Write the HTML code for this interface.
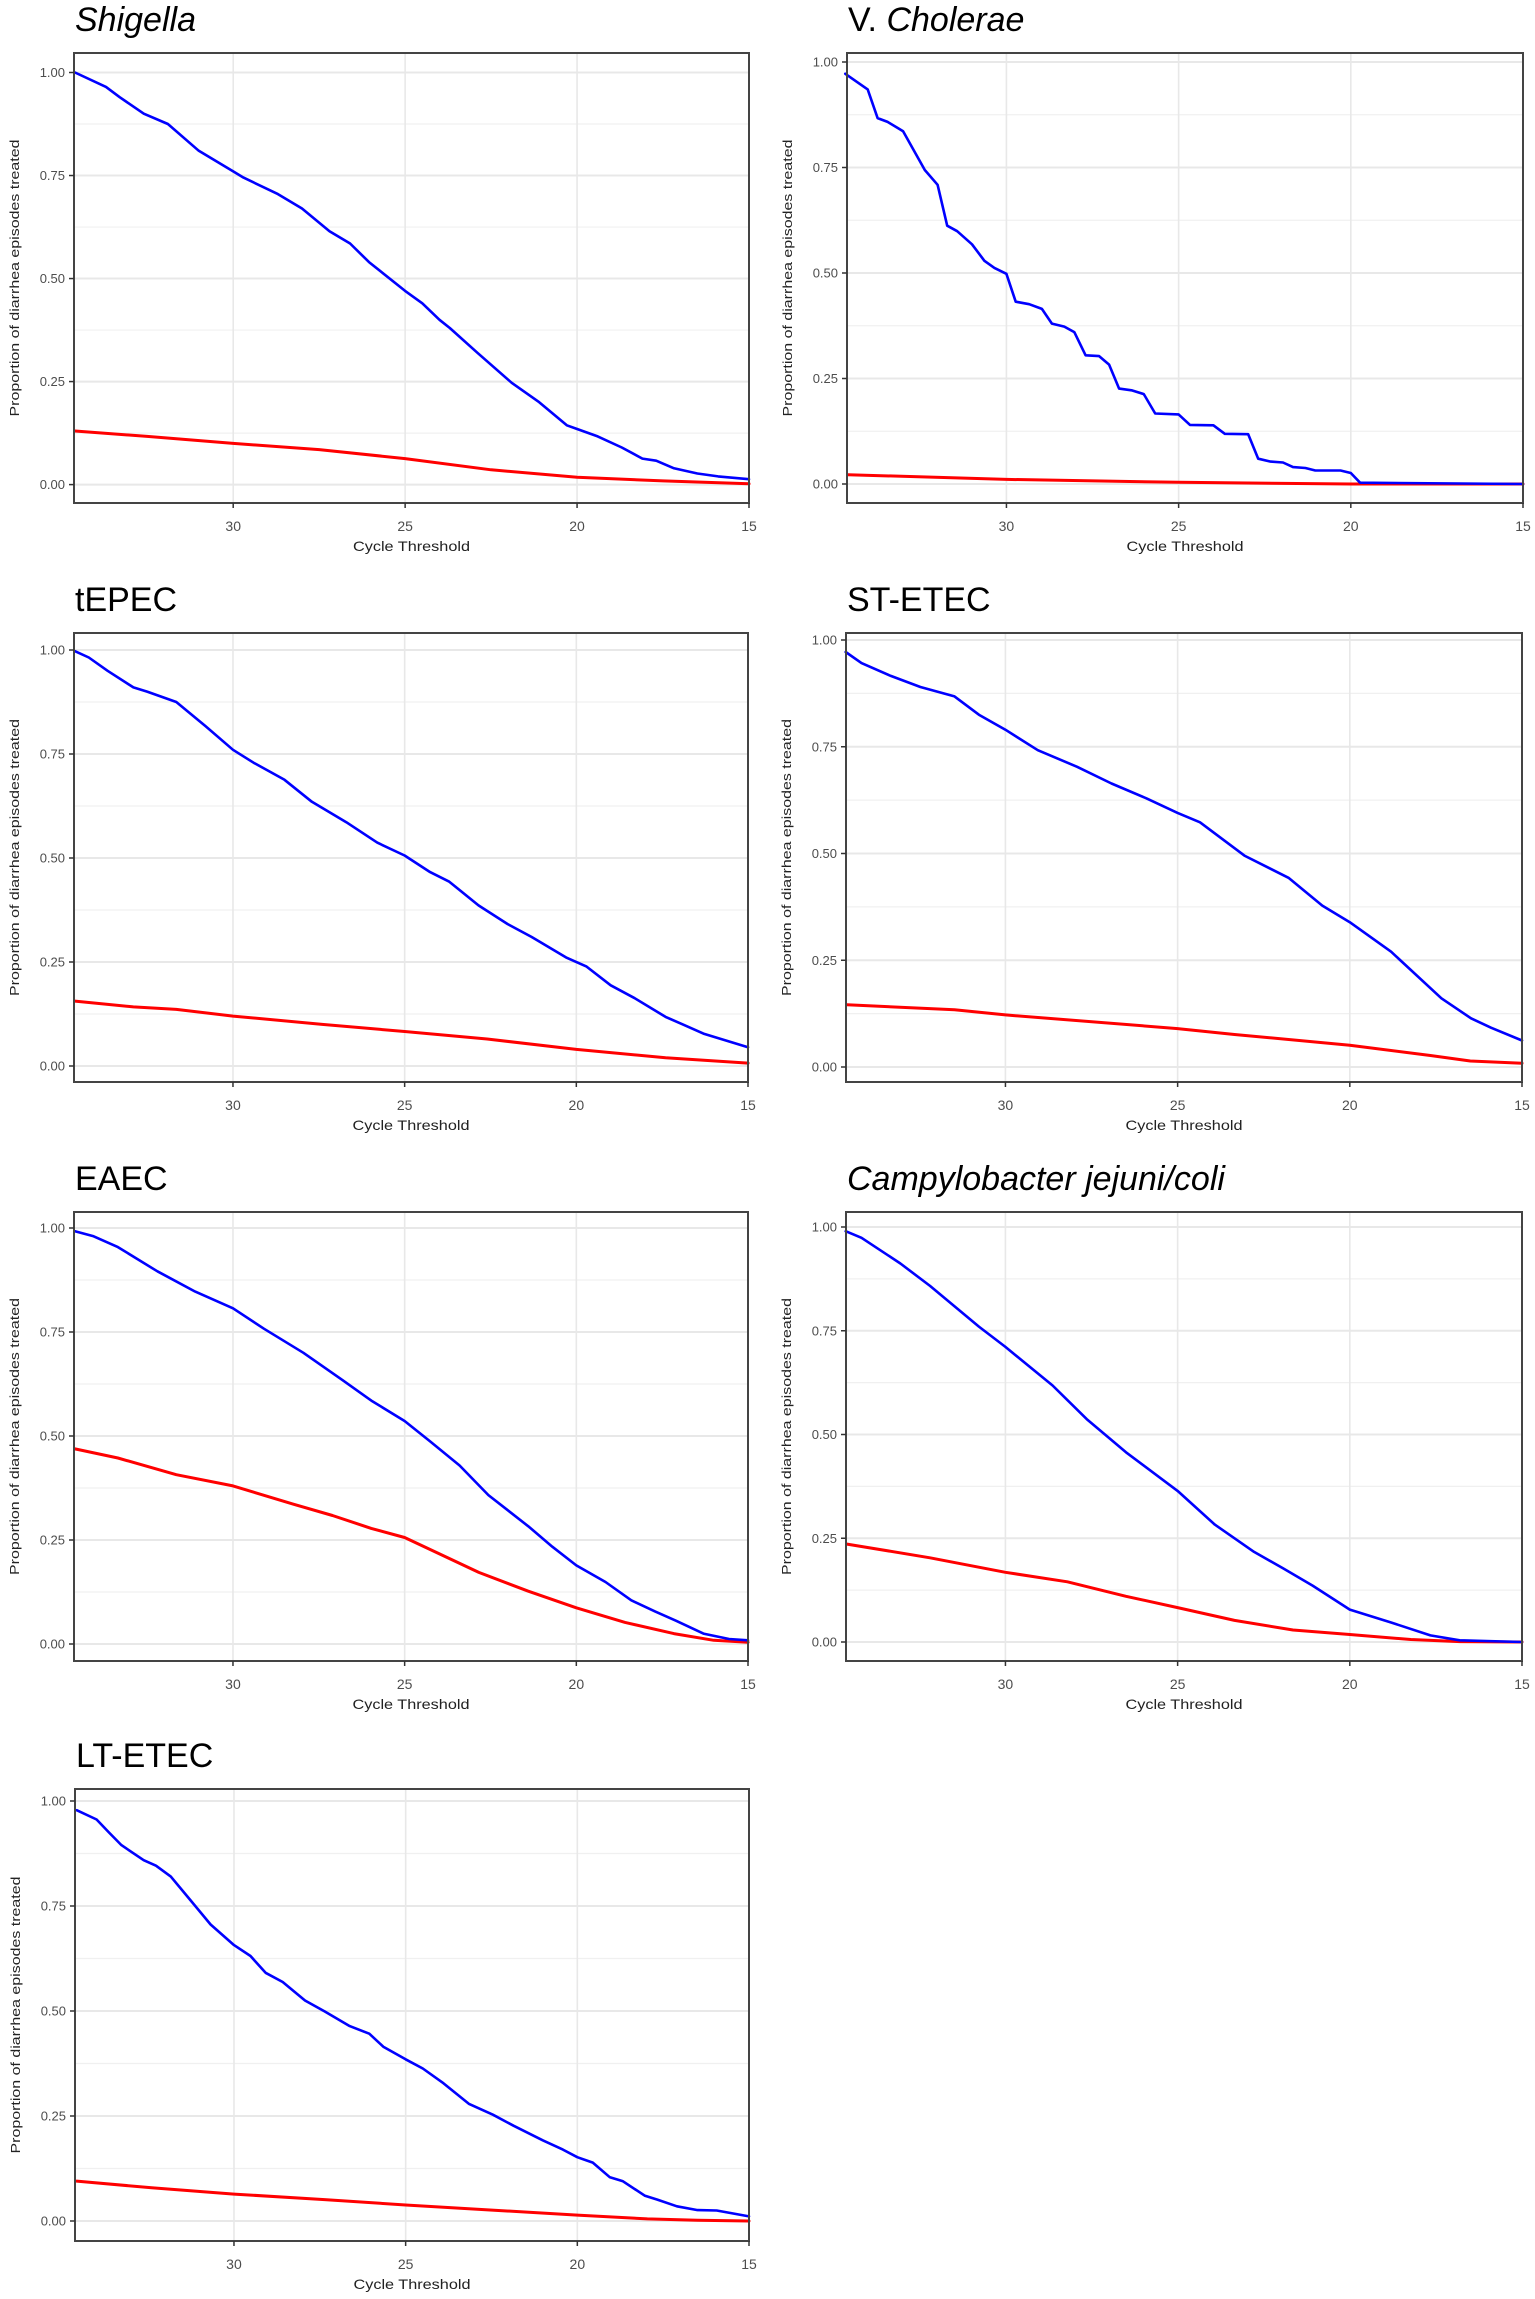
<!DOCTYPE html>
<html><head><meta charset="utf-8">
<style>
html,body{margin:0;padding:0;background:#fff;}
svg{display:block;}
text{font-family:"Liberation Sans",sans-serif;}
</style></head>
<body>
<svg id="chart" width="1535" height="2299" viewBox="0 0 1535 2299" xmlns="http://www.w3.org/2000/svg"></svg>
<script>
// ---- data (Cycle threshold -> proportion treated) ----
const xTicks = [30, 25, 20, 15];
const yTicks = [0, 0.25, 0.5, 0.75, 1];
const yTickLabels = ["0.00", "0.25", "0.50", "0.75", "1.00"];
const titles = ["Shigella", "V. Cholerae", "tEPEC", "ST-ETEC", "EAEC", "Campylobacter jejuni/coli", "LT-ETEC"];

const shigellaBlueCt = [34.6,33.7,33.3,32.6,31.9,31.0,30,29.7,28.7,28.0,27.2,26.6,26.05,25,24.5,24.0,23.7,22.9,21.9,21.1,20.3,20,19.4,18.7,18.1,17.7,17.2,16.5,15.9,15];
const shigellaBlue = [1.0,0.965,0.94,0.90,0.875,0.81,0.76,0.745,0.705,0.67,0.615,0.585,0.54,0.47,0.44,0.40,0.38,0.32,0.247,0.20,0.144,0.135,0.117,0.09,0.063,0.058,0.04,0.027,0.02,0.013];
const shigellaRedCt = [34.6,32.5,30,27.5,25,22.5,20,17.5,15];
const shigellaRed = [0.13,0.117,0.10,0.085,0.063,0.036,0.018,0.009,0.002];

const choleraeBlueCt = [34.68,34.03,33.74,33.45,33.0,32.37,32.0,31.72,31.43,31.0,30.64,30.35,30,29.73,29.34,28.97,28.68,28.32,28.03,27.7,27.31,27.02,26.73,26.37,26.01,25.68,25,24.67,23.99,23.66,22.98,22.69,22.33,21.97,21.68,21.32,21.03,20.3,20,19.73,15];
const choleraeBlue = [0.972,0.935,0.867,0.858,0.836,0.744,0.709,0.612,0.599,0.568,0.529,0.512,0.498,0.432,0.426,0.415,0.38,0.373,0.36,0.305,0.303,0.283,0.226,0.222,0.213,0.167,0.165,0.14,0.139,0.119,0.118,0.06,0.053,0.051,0.04,0.038,0.032,0.032,0.026,0.003,0];
const choleraeRedCt = [34.6,30,25,20,15];
const choleraeRed = [0.022,0.011,0.004,0.0,0.0];

const tepecBlueCt = [34.6,34.2,33.65,32.9,32.5,31.65,30.8,30,29.4,28.5,27.7,26.7,25.8,25,24.26,23.7,22.85,22.0,21.3,20.3,19.7,19.0,18.3,17.4,16.9,16.3,15];
const tepecBlue = [0.997,0.982,0.95,0.91,0.9,0.875,0.817,0.76,0.729,0.688,0.635,0.586,0.537,0.506,0.466,0.443,0.386,0.341,0.31,0.261,0.239,0.194,0.163,0.118,0.10,0.078,0.045];
const tepecRedCt = [34.6,32.9,31.65,30,27.4,25,22.6,20,17.4,15];
const tepecRed = [0.156,0.142,0.136,0.12,0.10,0.083,0.065,0.04,0.02,0.007];

const stetecBlueCt = [34.64,34.18,33.33,32.47,31.48,30.77,30,29.06,27.92,26.92,25.9,25,24.35,23.06,21.78,20.8,20,18.8,17.34,16.48,15.9,15];
const stetecBlue = [0.972,0.946,0.916,0.89,0.868,0.825,0.79,0.742,0.703,0.664,0.629,0.595,0.573,0.495,0.443,0.378,0.339,0.27,0.161,0.114,0.092,0.062];
const stetecRedCt = [34.6,31.48,30,25,23.35,20,17.66,16.5,15];
const stetecRed = [0.146,0.134,0.122,0.09,0.076,0.051,0.027,0.014,0.009];

const eaecBlueCt = [34.6,34.06,33.35,32.2,31.1,30,29.1,27.95,26.8,25.97,25,24.26,23.4,22.56,21.4,20.7,20,19.15,18.4,17.7,17.1,16.3,15.55,15];
const eaecBlue = [0.992,0.98,0.954,0.896,0.847,0.807,0.758,0.70,0.634,0.585,0.536,0.487,0.429,0.358,0.283,0.234,0.189,0.149,0.105,0.078,0.056,0.025,0.012,0.009];
const eaecRedCt = [34.6,33.35,31.65,30,28.24,27.1,25.97,25,23.97,22.84,21.4,20,18.58,17.16,16.0,15];
const eaecRed = [0.469,0.447,0.407,0.38,0.336,0.309,0.278,0.256,0.216,0.172,0.127,0.087,0.052,0.025,0.009,0.004];

const campyBlueCt = [34.64,34.18,33.05,32.19,30.77,30,28.63,27.64,26.5,25,23.92,22.78,21.93,21.08,20,18.8,17.66,16.81,15];
const campyBlue = [0.99,0.974,0.912,0.858,0.76,0.711,0.618,0.537,0.457,0.364,0.283,0.217,0.177,0.136,0.078,0.047,0.016,0.004,0];
const campyRedCt = [34.6,32.19,30,28.2,26.5,25,23.35,21.65,20,18.23,16.8,15];
const campyRed = [0.236,0.203,0.168,0.145,0.11,0.083,0.052,0.029,0.018,0.006,0.001,0];

const ltetecBlueCt = [34.58,34.0,33.64,33.28,32.63,32.27,31.84,31.26,30.68,30,29.52,29.08,28.58,27.93,27.36,26.63,26.06,25.65,25,24.5,23.9,23.16,22.46,21.86,21.0,20.42,20,19.55,19.05,18.68,18.03,17.67,17.1,16.5,15.94,15];
const ltetecBlue = [0.978,0.956,0.925,0.895,0.859,0.846,0.82,0.763,0.706,0.657,0.631,0.591,0.569,0.525,0.499,0.464,0.446,0.415,0.385,0.363,0.328,0.279,0.253,0.227,0.192,0.17,0.152,0.139,0.104,0.095,0.06,0.051,0.035,0.026,0.025,0.011];
const ltetecRedCt = [34.58,32.4,30,27.36,25,22.3,20,17.96,16.5,15];
const ltetecRed = [0.095,0.079,0.064,0.051,0.038,0.025,0.014,0.005,0.002,0];

const blueCts = [shigellaBlueCt, choleraeBlueCt, tepecBlueCt, stetecBlueCt, eaecBlueCt, campyBlueCt, ltetecBlueCt];
const blueVals = [shigellaBlue, choleraeBlue, tepecBlue, stetecBlue, eaecBlue, campyBlue, ltetecBlue];
const redCts = [shigellaRedCt, choleraeRedCt, tepecRedCt, stetecRedCt, eaecRedCt, campyRedCt, ltetecRedCt];
const redVals = [shigellaRed, choleraeRed, tepecRed, stetecRed, eaecRed, campyRed, ltetecRed];

// ---- layout ----
const NS = "http://www.w3.org/2000/svg";
const svg = document.getElementById("chart");
const italicTitle = [true, false, false, false, false, true, false];
const panelBox = [
  {L:74, R:749, T:53, B:503, y1:72.5, y0:484.6},
  {L:847, R:1523, T:53, B:503, y1:62, y0:484},
  {L:74, R:748, T:633, B:1082, y1:650, y0:1066},
  {L:846, R:1522, T:633, B:1082, y1:640, y0:1067},
  {L:74, R:748, T:1212, B:1661, y1:1228, y0:1644},
  {L:846, R:1522, T:1212, B:1661, y1:1227, y0:1642},
  {L:75, R:749, T:1789, B:2241, y1:1801, y0:2221}
];
const xLeftCt = 34.63, xRightCt = 15;

function mk(tag, attrs, parent){
  const e = document.createElementNS(NS, tag);
  for (const k in attrs) e.setAttribute(k, attrs[k]);
  (parent || svg).appendChild(e);
  return e;
}

panelBox.forEach((p, i) => {
  const g = mk("g", {});
  
  
  const xs = ct => p.L + (xLeftCt - ct) / (xLeftCt - xRightCt) * (p.R - p.L);
  const ys = v => p.y0 + (p.y1 - p.y0) * v;

  // title
  const t = mk("text", {x: p.L + 1, y: p.T - 22, "font-size": 34, fill: "#000", "font-style": italicTitle[i] ? "italic" : "normal"}, g);
  if (i === 1) {
    const a = mk("tspan", {}, t); a.textContent = "V. ";
    const b = mk("tspan", {"font-style": "italic"}, t); b.textContent = "Cholerae";
  } else {
    t.textContent = titles[i];
  }
  
  

  // minor grid
  for (let k = 0; k < yTicks.length - 1; k++) {
    const v = (yTicks[k] + yTicks[k + 1]) / 2;
    const ln = mk("line", {x1: p.L, x2: p.R, y1: ys(v), y2: ys(v), stroke: "#f0f0f0", "stroke-width": 1.2}, g);
    
    
  }
  // major grid
  yTicks.forEach(v => {
    const ln = mk("line", {x1: p.L, x2: p.R, y1: ys(v), y2: ys(v), stroke: "#e8e8e8", "stroke-width": 2}, g);
    
    
  });
  xTicks.forEach(c => {
    const ln = mk("line", {x1: xs(c), x2: xs(c), y1: p.T, y2: p.B, stroke: "#e8e8e8", "stroke-width": 1.6}, g);
    
    
  });

  // series
  const line = (cts, vals, color, w, name) => {
    const d = cts.map((c, k) => (k ? "L" : "M") + xs(c).toFixed(1) + "," + ys(vals[k]).toFixed(1)).join(" ");
    const pth = mk("path", {d: d, fill: "none", stroke: color, "stroke-width": w, "stroke-linejoin": "round", "stroke-linecap": "round"}, g);
    
    
  };
  line(redCts[i], redVals[i], "#ff0000", 3, "red-series-line");
  line(blueCts[i], blueVals[i], "#0000ff", 2.6, "blue-series-line");

  // border
  const bd = mk("rect", {x: p.L, y: p.T, width: p.R - p.L, height: p.B - p.T, fill: "none", stroke: "#444", "stroke-width": 2}, g);
  
  

  // y ticks
  yTicks.forEach((v, k) => {
    const tk = mk("line", {x1: p.L - 5, x2: p.L, y1: ys(v), y2: ys(v), stroke: "#333", "stroke-width": 1.5}, g);
    
    
    const lb = mk("text", {x: p.L - 9, y: ys(v) + 4.5, "font-size": 13, fill: "#4d4d4d", "text-anchor": "end"}, g);
    lb.textContent = yTickLabels[k];
    
    
  });
  // x ticks
  xTicks.forEach(c => {
    const tk = mk("line", {x1: xs(c), x2: xs(c), y1: p.B, y2: p.B + 5, stroke: "#333", "stroke-width": 1.5}, g);
    
    
    const lb = mk("text", {x: xs(c), y: p.B + 28, "font-size": 14, fill: "#4d4d4d", "text-anchor": "middle"}, g);
    lb.textContent = String(c);
    
    
  });

  // axis titles
  const xt = mk("text", {x: (p.L + p.R) / 2, y: p.B + 48, "font-size": 14, fill: "#222", "text-anchor": "middle", textLength: 117, lengthAdjust: "spacingAndGlyphs"}, g);
  xt.textContent = "Cycle Threshold";
  
  
  const yc = (p.T + p.B) / 2, yx = p.L - 55;
  const yt = mk("text", {x: yx, y: yc, "font-size": 13, fill: "#222", "text-anchor": "middle", transform: "rotate(-90 " + yx + " " + yc + ")", textLength: 277, lengthAdjust: "spacingAndGlyphs"}, g);
  yt.textContent = "Proportion of diarrhea episodes treated";
  
  
});
</script>
</body></html>
